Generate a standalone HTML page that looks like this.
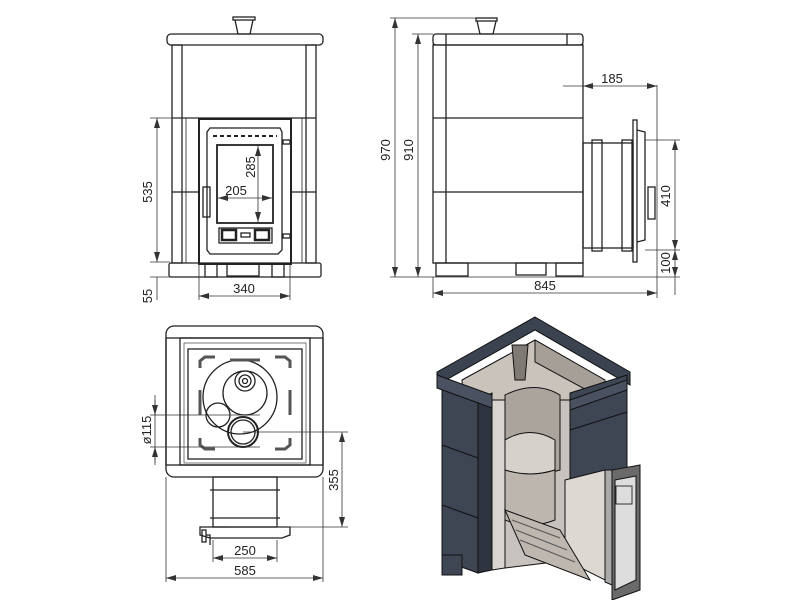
<!DOCTYPE html>
<html><head><meta charset="utf-8"><style>
html,body{margin:0;padding:0;background:#fff;}
svg{display:block}
text{font-family:"Liberation Sans",sans-serif;font-size:13px;fill:#222}
</style></head><body>
<svg width="800" height="600" viewBox="0 0 800 600" xmlns="http://www.w3.org/2000/svg">
<defs>
<marker id="a" markerWidth="10" markerHeight="6" refX="10" refY="3" orient="auto-start-reverse" markerUnits="userSpaceOnUse"><path d="M0,0 L10,3 L0,6z" fill="#333"/></marker>
</defs>
<g fill="none" stroke="#222" stroke-width="1.3">
<!-- FRONT VIEW -->
<rect x="233" y="17" width="22" height="3"/>
<path d="M235,20 L238,34 L250,34 L253,20"/>
<rect x="167" y="34" width="156" height="11" rx="4"/>
<rect x="172" y="45" width="10" height="218"/>
<rect x="306" y="45" width="10" height="218"/>
<line x1="172" y1="118" x2="316" y2="118"/>
<line x1="186" y1="118" x2="186" y2="263" stroke-width="0.8"/>
<line x1="302" y1="118" x2="302" y2="263" stroke-width="0.8"/>
<line x1="172" y1="192" x2="200" y2="192"/><line x1="290" y1="192" x2="316" y2="192"/>
<rect x="169" y="263" width="152" height="14" rx="2"/>
<rect x="199" y="119" width="92" height="145" stroke-width="2"/>
<path d="M210,128 L280,128 L282,132 L282,250 L278,254 L210,254 L207,250 L207,132z"/>
<rect x="217" y="145" width="56" height="78" stroke-width="1.8"/>
<rect x="219" y="228" width="53" height="15"/>
<rect x="222" y="230" width="14" height="10" stroke-width="2.5"/><rect x="255" y="230" width="14" height="10" stroke-width="2.5"/>
<rect x="241" y="233" width="9" height="4"/>
<rect x="203" y="187" width="7" height="30"/>
<rect x="283" y="140" width="7" height="4"/><rect x="283" y="234" width="7" height="4"/>
<rect x="205" y="264" width="12" height="13"/><rect x="227" y="264" width="32" height="12"/><rect x="272" y="264" width="12" height="13"/>
<line x1="213" y1="136" x2="277" y2="136" stroke-dasharray="4 3" stroke-width="2"/>
<!-- SIDE VIEW -->
<rect x="476" y="18" width="21" height="3"/>
<path d="M477,21 L480,34 L493,34 L496,21"/>
<rect x="433" y="34" width="150" height="11" rx="3"/>
<line x1="446" y1="34" x2="446" y2="45"/><line x1="567" y1="34" x2="567" y2="45"/>
<rect x="433" y="45" width="150" height="218"/>
<line x1="446" y1="45" x2="446" y2="263"/>
<line x1="433" y1="118" x2="583" y2="118"/><line x1="433" y1="192" x2="583" y2="192"/>
<rect x="436" y="263" width="32" height="13"/><rect x="516" y="263" width="30" height="12"/><rect x="556" y="263" width="27" height="13"/>
<rect x="583" y="143" width="50" height="105"/>
<rect x="592" y="140" width="10" height="111"/><rect x="622" y="140" width="10" height="111"/>
<rect x="633" y="120" width="4" height="142"/>
<path d="M637,130 L645,132 L645,240 L637,242"/>
<rect x="648" y="187" width="7" height="32"/>
<!-- TOP VIEW -->
<rect x="166" y="326" width="157" height="151" rx="8"/>
<rect x="166" y="338" width="157" height="127"/>
<rect x="180" y="338" width="130" height="127"/>
<rect x="188" y="349" width="114" height="110"/>
<rect x="184" y="343" width="122" height="120" stroke-width="0.6"/>
<circle cx="240" cy="397" r="37"/>
<circle cx="245" cy="393" r="22"/>
<circle cx="245" cy="381" r="10"/><circle cx="245" cy="381" r="6"/><circle cx="245" cy="381" r="2.5"/>
<circle cx="218" cy="415" r="12"/>
<circle cx="243" cy="432" r="15" stroke-width="2"/><circle cx="243" cy="432" r="12"/>
<path d="M200,368 L200,361 L205,357 L215,357" stroke-width="3" stroke="#555"/>
<path d="M290,368 L290,361 L285,357 L275,357" stroke-width="3" stroke="#555"/>
<path d="M200,438 L200,445 L205,449 L215,449" stroke-width="3" stroke="#555"/>
<path d="M290,438 L290,445 L285,449 L275,449" stroke-width="3" stroke="#555"/>
<line x1="230" y1="360" x2="260" y2="360" stroke-width="3" stroke="#555"/>
<line x1="200" y1="390" x2="200" y2="415" stroke-width="3" stroke="#555"/>
<line x1="290" y1="390" x2="290" y2="415" stroke-width="3" stroke="#555"/>
<rect x="213" y="477" width="64" height="50"/>
<line x1="210" y1="490" x2="280" y2="490"/><line x1="210" y1="518" x2="280" y2="518"/>
<path d="M200,527 L290,527 L290,535 L282,538 L210,538 L200,535z"/>
<rect x="202" y="530" width="4" height="12"/><path d="M206,535 L210,535 L210,545" />
<!-- dims lines -->
<g stroke="#333" stroke-width="0.8">
<line x1="157" y1="118" x2="157" y2="262" marker-start="url(#a)" marker-end="url(#a)"/>
<line x1="150" y1="118" x2="198" y2="118"/><line x1="150" y1="262" x2="170" y2="262"/><line x1="150" y1="277" x2="170" y2="277"/>
<line x1="157" y1="277" x2="157" y2="300"/>
<line x1="199" y1="296" x2="290" y2="296" marker-start="url(#a)" marker-end="url(#a)"/>
<line x1="199" y1="264" x2="199" y2="300"/><line x1="290" y1="264" x2="290" y2="300"/>
<line x1="258" y1="146" x2="258" y2="222" marker-start="url(#a)" marker-end="url(#a)"/>
<line x1="218" y1="198" x2="272" y2="198" marker-start="url(#a)" marker-end="url(#a)"/>
<line x1="395" y1="18" x2="395" y2="277" marker-start="url(#a)" marker-end="url(#a)"/>
<line x1="390" y1="18" x2="476" y2="18"/>
<line x1="418" y1="34" x2="418" y2="277" marker-start="url(#a)" marker-end="url(#a)"/>
<line x1="412" y1="34" x2="433" y2="34"/><line x1="390" y1="277" x2="680" y2="277"/>
<line x1="433" y1="277" x2="433" y2="298"/><line x1="657" y1="85" x2="657" y2="298"/>
<line x1="433" y1="293" x2="657" y2="293" marker-start="url(#a)" marker-end="url(#a)"/>
<line x1="563" y1="86" x2="655" y2="86"/>
<line x1="583" y1="86" x2="594" y2="86" marker-start="url(#a)"/><line x1="647" y1="86" x2="657" y2="86" marker-end="url(#a)"/>
<line x1="645" y1="140" x2="680" y2="140"/><line x1="645" y1="250" x2="680" y2="250"/>
<line x1="675" y1="140" x2="675" y2="250" marker-start="url(#a)" marker-end="url(#a)"/>
<line x1="675" y1="250" x2="675" y2="277" marker-start="url(#a)" marker-end="url(#a)"/>
<line x1="675" y1="277" x2="675" y2="295"/>
<line x1="155" y1="395" x2="155" y2="465"/>
<line x1="155" y1="400" x2="155" y2="415" marker-end="url(#a)"/><line x1="155" y1="462" x2="155" y2="447" marker-end="url(#a)"/>
<line x1="150" y1="415" x2="260" y2="415"/><line x1="150" y1="447" x2="260" y2="447"/>
<line x1="243" y1="432" x2="348" y2="432"/><line x1="230" y1="527" x2="348" y2="527"/>
<line x1="342" y1="432" x2="342" y2="527" marker-start="url(#a)" marker-end="url(#a)"/>
<line x1="213" y1="540" x2="213" y2="562"/><line x1="277" y1="540" x2="277" y2="562"/>
<line x1="213" y1="558" x2="277" y2="558" marker-start="url(#a)" marker-end="url(#a)"/>
<line x1="166" y1="477" x2="166" y2="582"/><line x1="323" y1="477" x2="323" y2="582"/>
<line x1="166" y1="578" x2="323" y2="578" marker-start="url(#a)" marker-end="url(#a)"/>
</g>
</g>
<!-- 3D VIEW -->
<g stroke="#111" stroke-width="1">
<polygon points="535,317 630,372 630,385 535,330 437,385 437,372" fill="#3b4250"/>
<polygon points="462,380 535,340 605,380 605,430 535,470 465,430" fill="#c9c3bc"/>
<polygon points="535,340 605,380 605,400 535,362" fill="#a69f98"/>
<polygon points="442,385 478,400 478,573 442,560" fill="#3e4553"/>
<polygon points="478,400 492,393 492,570 478,573" fill="#2f3540"/>
<polygon points="437,375 492,395 492,408 437,388" fill="#4a5261"/>
<polygon points="492,400 505,400 505,568 492,570" fill="#d8d4cf"/>
<polygon points="505,400 570,400 570,560 505,568" fill="#c7c2bd"/>
<path d="M505,395 Q535,380 560,395 L560,470 Q535,478 505,470z" fill="#aaa49d"/>
<path d="M505,440 Q530,425 555,440 L555,470 Q530,478 505,470z" fill="#d6d1cb"/>
<path d="M505,470 Q530,478 555,470 L555,520 Q530,530 505,520z" fill="#bcb6af"/>
<polygon points="512,345 528,345 525,380 515,380" fill="#7f7a74"/>
<polygon points="570,393 627,375 627,470 570,490" fill="#3e4553"/>
<polygon points="570,400 627,380 627,390 570,410" fill="#4a5261"/>
<polygon points="565,480 605,470 605,580 565,560" fill="#ddd8d2"/>
<polygon points="605,470 612,470 612,585 605,582" fill="#aaa"/>
<polygon points="612,470 640,465 640,590 612,600" fill="#6a6a6a"/>
<polygon points="615,480 636,476 636,580 615,590" fill="#ddd"/>
<rect x="616" y="486" width="16" height="18" fill="none" stroke="#333"/>
<polygon points="505,510 560,530 590,580 525,555" fill="#bdb7b0"/>
<g stroke="#555"><line x1="512" y1="520" x2="560" y2="538"/><line x1="516" y1="530" x2="567" y2="550"/><line x1="520" y1="540" x2="575" y2="562"/></g>
<rect x="442" y="555" width="20" height="20" fill="#3e4553"/>
<line x1="442" y1="445" x2="478" y2="458"/><line x1="442" y1="505" x2="478" y2="518"/>
<line x1="570" y1="430" x2="627" y2="412"/>
</g>
<!-- labels -->
<text x="0" y="0" transform="translate(152,192) rotate(-90)" text-anchor="middle">535</text>
<text x="0" y="0" transform="translate(152,296) rotate(-90)" text-anchor="middle">55</text>
<text x="244" y="293" text-anchor="middle">340</text>
<text x="0" y="0" transform="translate(255,167) rotate(-90)" text-anchor="middle">285</text>
<text x="236" y="195" text-anchor="middle">205</text>
<text x="0" y="0" transform="translate(390,150) rotate(-90)" text-anchor="middle">970</text>
<text x="0" y="0" transform="translate(413,150) rotate(-90)" text-anchor="middle">910</text>
<text x="612" y="83" text-anchor="middle">185</text>
<text x="0" y="0" transform="translate(670,196) rotate(-90)" text-anchor="middle">410</text>
<text x="0" y="0" transform="translate(670,263) rotate(-90)" text-anchor="middle">100</text>
<text x="545" y="290" text-anchor="middle">845</text>
<text x="0" y="0" transform="translate(151,430) rotate(-90)" text-anchor="middle">ø115</text>
<text x="0" y="0" transform="translate(338,480) rotate(-90)" text-anchor="middle">355</text>
<text x="245" y="555" text-anchor="middle">250</text>
<text x="245" y="575" text-anchor="middle">585</text>
</svg>
</body></html>
